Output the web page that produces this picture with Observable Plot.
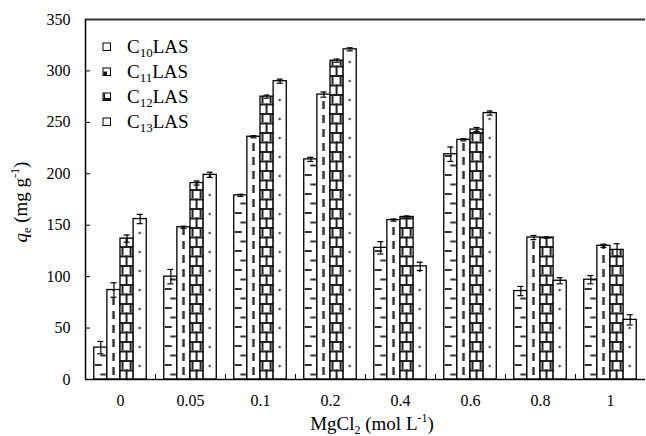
<!DOCTYPE html>
<html><head><meta charset="utf-8">
<script src="https://cdn.jsdelivr.net/npm/d3@7"></script>
<script src="https://cdn.jsdelivr.net/npm/@observablehq/plot@0.6"></script>
<style>body{margin:0;background:#fff} svg text{font-family:'Liberation Serif',serif !important}</style>
</head><body><div id="chart"></div>
<script>
const groups = ["0", "0.05", "0.1", "0.2", "0.4", "0.6", "0.8", "1"];
const series = ["C10LAS", "C11LAS", "C12LAS", "C13LAS"];
const c10 = [31, 100, 179, 214, 128, 219, 86, 97];
const c11 = [87, 148, 236, 277, 155, 233, 138, 130];
const c12 = [137, 191, 275, 310, 158, 243, 138, 126];
const c13 = [156, 199, 290, 321, 110, 259, 96, 58];
const e10 = [6, 7, 1, 2, 6, 7, 4.5, 4];
const e11 = [7, 1, 1, 2.5, 1, 1, 2, 1.5];
const e12 = [3.5, 2, 1.5, 1.5, 1, 2, 0.5, 6];
const e13 = [4.5, 2.5, 2, 1.5, 4, 2, 3, 5];
const yTicks = [0, 50, 100, 150, 200, 250, 300, 350];

const values = [c10, c11, c12, c13];
const errors = [e10, e11, e12, e13];
const rows = [];
series.forEach((s, si) => groups.forEach((g, gi) => rows.push({group: g, series: s, gi, si, v: values[si][gi], e: errors[si][gi]})));

const W = 646, H = 436, mL = 85, mR = 1, mT = 19, mB = 57;
const pad = 0.125, bw = (1 - 2 * pad) / series.length;
const left = d => d.gi + pad + d.si * bw;
const mid = d => d.gi + pad + (d.si + 0.5) * bw;

const font = "'Liberation Serif', 'Times New Roman', serif";
const plot = Plot.plot({
  width: W, height: H, marginLeft: mL, marginRight: mR, marginTop: mT, marginBottom: mB,
  style: {fontFamily: font, fontSize: "16px", color: "#000", background: "#fff"},
  x: {type: "linear", domain: [0, groups.length]},
  y: {domain: [0, 350]},
  marks: [
    ...series.map((s, si) => Plot.rectY(rows.filter(d => d.si === si), {
      x1: left, x2: d => left(d) + bw, y1: 0, y2: "v",
      fill: `url(#pat${si})`, stroke: "#000", strokeWidth: 1.3
    })),
    Plot.ruleX(rows, {x: mid, y1: d => d.v - d.e, y2: d => d.v + d.e, stroke: "#000", strokeWidth: 1.2}),
    Plot.ruleY(rows, {x1: mid, x2: mid, y: d => d.v + d.e, insetLeft: -3, insetRight: -3, stroke: "#000", strokeWidth: 1.2}),
    Plot.ruleY(rows, {x1: mid, x2: mid, y: d => d.v - d.e, insetLeft: -3, insetRight: -3, stroke: "#000", strokeWidth: 1.2}),
    Plot.ruleY(yTicks, {x1: 0, x2: 0, insetRight: -5, stroke: "#000", strokeWidth: 1}),
    Plot.ruleX(d3.range(1, groups.length), {y1: 0, y2: 0, insetTop: -5, stroke: "#000", strokeWidth: 1}),
    Plot.ruleY([350], {stroke: "#333", strokeWidth: 2}),
    Plot.ruleY([0], {stroke: "#000", strokeWidth: 1.5}),
    Plot.ruleX([0], {stroke: "#000", strokeWidth: 1.5}),
    Plot.axisY({ticks: yTicks, tickSize: 0, tickPadding: 15, label: null, fontSize: 16}),
    Plot.axisX({ticks: groups.map((g, i) => i + 0.5), tickFormat: t => groups[Math.round(t - 0.5)], tickSize: 0, tickPadding: 15, label: null, fontSize: 16})
  ]
});
document.getElementById("chart").appendChild(plot);

const svg = d3.select(plot);
svg.attr("font-family", font).style("font-family", font);
svg.selectAll("text").attr("font-family", font).style("font-family", font).attr("font-size", 16).style("font-size", "16px");

// patterns
const defs = svg.insert("defs", ":first-child");
const step = (W - mL - mR) / groups.length;
const bwPx = step * bw;
const baseY = H - mB;
function pat(si, h) {
  return defs.append("pattern").attr("id", `pat${si}`).attr("patternUnits", "userSpaceOnUse")
    .attr("x", mL + step * (pad + si * bw)).attr("y", baseY).attr("width", step).attr("height", h);
}
let p = pat(0, 19);
p.append("rect").attr("width", step).attr("height", 19).attr("fill", "#fff");
p.append("rect").attr("x", 1).attr("y", 4).attr("width", 7).attr("height", 2).attr("fill", "#333");
p.append("rect").attr("x", 6.5).attr("y", 13.5).attr("width", 6).attr("height", 2).attr("fill", "#333");
p = pat(1, 14);
p.append("rect").attr("width", step).attr("height", 14).attr("fill", "#fff");
p.append("rect").attr("x", bwPx / 2 - 1.2).attr("y", 2).attr("width", 2.5).attr("height", 8).attr("fill", "#333");
p = pat(2, 19);
const bc = "#222", lw = 2;
p.append("rect").attr("width", step).attr("height", 19).attr("fill", "#fff");
p.append("rect").attr("x", 0).attr("y", 0).attr("width", bwPx).attr("height", lw).attr("fill", bc);
p.append("rect").attr("x", 0).attr("y", 9.5).attr("width", bwPx).attr("height", lw).attr("fill", bc);
p.append("rect").attr("x", 1.5).attr("y", 0).attr("width", lw).attr("height", 9.5).attr("fill", bc);
p.append("rect").attr("x", bwPx - 1.5 - lw).attr("y", 0).attr("width", lw).attr("height", 9.5).attr("fill", bc);
p.append("rect").attr("x", bwPx / 2 - lw / 2).attr("y", 9.5).attr("width", lw).attr("height", 9.5).attr("fill", bc);
p = pat(3, 19);
p.append("rect").attr("width", step).attr("height", 19).attr("fill", "#fff");
p.append("circle").attr("cx", bwPx / 2).attr("cy", 6).attr("r", 1.2).attr("fill", "#444");

// axis titles
const xt = svg.append("text").attr("x", 372).attr("y", 430).attr("text-anchor", "middle")
  .attr("font-family", font).attr("font-size", 19).attr("fill", "#000");
xt.append("tspan").text("MgCl");
xt.append("tspan").attr("font-size", 12).attr("dy", 4).text("2");
xt.append("tspan").attr("dy", -4).text(" (mol L");
xt.append("tspan").attr("font-size", 12).attr("dy", -8).text("-1");
xt.append("tspan").attr("dy", 8).text(")");

const yt = svg.append("text").attr("transform", "translate(27,202) rotate(-90)").attr("text-anchor", "middle")
  .attr("font-family", font).attr("font-size", 19).attr("fill", "#000");
yt.append("tspan").attr("font-style", "italic").text("q");
yt.append("tspan").attr("font-size", 12).attr("dy", 4).text("e");
yt.append("tspan").attr("dy", -4).text(" (mg g");
yt.append("tspan").attr("font-size", 12).attr("dy", -8).text("-1");
yt.append("tspan").attr("dy", 8).text(")");

// legend
const lg = svg.append("g");
series.forEach((s, i) => {
  const y0 = 43 + 25 * i;
  const m = s.match(/^([A-Z]+)(\d+)(.*)$/);
  lg.append("rect").attr("x", 103).attr("y", y0).attr("width", 7.5).attr("height", 7.5)
    .attr("fill", "#fff").attr("stroke", "#000").attr("stroke-width", 1);
  if (i === 1) lg.append("rect").attr("x", 103.5).attr("y", y0 + 3.5).attr("width", 3.5).attr("height", 3.5).attr("fill", "#111");
  if (i === 2) {
    lg.append("rect").attr("x", 103.5).attr("y", y0 + 5).attr("width", 6.5).attr("height", 2.2).attr("fill", "#111");
    lg.append("rect").attr("x", 103.5).attr("y", y0 + 0.5).attr("width", 1.6).attr("height", 6.5).attr("fill", "#111");
  }
  const t = lg.append("text").attr("x", 127).attr("y", y0 + 10.3).attr("text-anchor", "start")
    .attr("font-family", font).attr("font-size", 19).attr("fill", "#000");
  t.append("tspan").text(m[1]);
  t.append("tspan").attr("font-size", 13).attr("dy", 4).text(m[2]);
  t.append("tspan").attr("dy", -4).text(m[3]);
});
</script>
</body></html>
